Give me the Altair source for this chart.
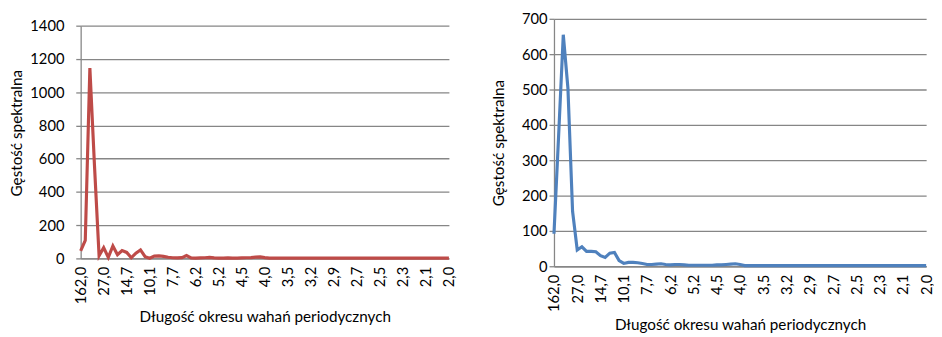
import json
import altair as alt
import pandas as pd

# x positions: spectral index k = 0..80 (period = 162/(k+1) years)
tick_labels = ["162,0", "27,0", "14,7", "10,1", "7,7", "6,2", "5,2", "4,5", "4,0",
               "3,5", "3,2", "2,9", "2,7", "2,5", "2,3", "2,1", "2,0"]

red_values = [45, 108, 1145, 560, 16, 65, 6, 75, 22, 47,
              36, 4, 32, 51, 10, 1, 14, 15, 12, 7,
              4, 3, 5, 17, 3, 2, 3, 4, 6, 3,
              2, 2, 3, 2, 2, 3, 4, 5, 8, 9,
              5, 2, 2, 2, 2, 2, 2, 2, 2, 2,
              2, 2, 2, 2, 2, 2, 2, 2, 2, 2,
              2, 2, 2, 2, 2, 2, 2, 2, 2, 2,
              2, 2, 2, 2, 2, 2, 2, 2, 2, 2, 2]

blue_values = [92, 370, 655, 503, 155, 46, 55, 42, 42, 41,
               30, 25, 37, 39, 16, 8, 11, 11, 10, 8,
               5, 5, 6, 7, 5, 4, 5, 5, 4, 3,
               3, 3, 3, 3, 3, 4, 4, 5, 6, 7,
               5, 2, 2, 2, 2, 2, 2, 2, 2, 2,
               2, 2, 2, 2, 2, 2, 2, 2, 2, 2,
               2, 2, 2, 2, 2, 2, 2, 2, 2, 2,
               2, 2, 2, 2, 2, 2, 2, 2, 2, 2, 2]

FONT = "Lato"
GRID = "#868686"
x_title = "Długość okresu wahań periodycznych"
y_title = "Gęstość spektralna"

label_expr = json.dumps(tick_labels) + "[round(datum.value / 5)]"
tick_positions = [i * 5 for i in range(len(tick_labels))]


def panel(values, color, ymax, ystep, width, height, top_gap, label_pad, title_pad, title_y=None):
    df = pd.DataFrame({"k": list(range(len(values))), "v": values})
    x_axis = alt.Axis(values=tick_positions, labelExpr=label_expr, labelAngle=270,
                      labelAlign="right", labelBaseline="middle", labelPadding=8,
                      ticks=False, grid=False, domainColor=GRID, domainWidth=1.3,
                      title=x_title, titlePadding=6, labelOverlap=False,
                      labelFlush=False)
    yargs = dict(values=list(range(0, ymax + 1, ystep)), format="d", tickSize=5,
                 tickColor=GRID, tickWidth=1.3, labelPadding=label_pad,
                 grid=True, gridColor=GRID, gridWidth=1.3, domainColor=GRID,
                 domainWidth=1.3, title=y_title, titlePadding=title_pad)
    if title_y is not None:
        yargs["titleY"] = title_y
    y_axis = alt.Axis(**yargs)
    line = alt.Chart(df).mark_line(color=color, strokeWidth=3.2).encode(
        x=alt.X("k:Q", axis=x_axis, scale=alt.Scale(domain=[0, len(values) - 1], nice=False, zero=False)),
        y=alt.Y("v:Q", axis=y_axis, scale=alt.Scale(domain=[0, ymax], nice=False, range=[height, top_gap])),
    )
    return line.properties(width=width, height=height)


left = panel(red_values, "#BE4B48", 1400, 200, 375, 244, 7, 12, 5, title_y=116)
right = panel(blue_values, "#4F81BD", 700, 100, 379, 252, 0, 2, 15)

chart = alt.hconcat(left, right, spacing=35).properties(
    padding={"left": 2, "top": 1, "right": 0, "bottom": 0}
).configure_view(stroke=None).configure_axis(
    labelFont=FONT, titleFont=FONT, labelFontSize=15, titleFontSize=15.5,
    labelColor="#000000", titleColor="#000000", titleFontWeight="normal"
)

chart.save("out.html", embed_options={"renderer": "svg", "actions": False})
